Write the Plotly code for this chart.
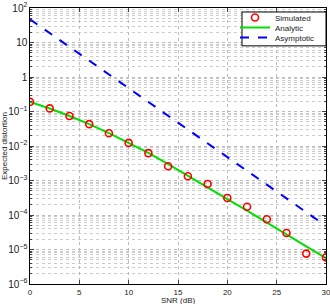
import plotly.graph_objects as go

snr_db = [0, 2, 4, 6, 8, 10, 12, 14, 16, 18, 20, 22, 24, 26, 28, 30]
simulated = [0.19, 0.123, 0.074, 0.043, 0.0234, 0.0123, 0.0062, 0.0026, 0.00133,
             7.9e-4, 3.1e-4, 1.74e-4, 7.5e-5, 3.0e-5, 7.6e-6, 5.9e-6]
analytic = [0.19, 0.122, 0.074, 0.043, 0.0235, 0.0125, 0.0063, 0.0030, 0.00135,
            6.3e-4, 2.9e-4, 1.33e-4, 5.9e-5, 2.7e-5, 1.23e-5, 5.6e-6]
asym_snr_db = [0, 5, 10, 15, 20, 25, 30]
asymptotic = [47, 4.7, 0.47, 0.047, 0.0047, 4.7e-4, 4.8e-5]

x_ticks = [0, 5, 10, 15, 20, 25, 30]
series_names = ["Simulated", "Analytic", "Asymptotic"]
x_title = "SNR (dB)"
y_title = "Expected distortion"

FONT = "Liberation Sans, Arial, sans-serif"
TXT = "#222222"

fig = go.Figure()
fig.add_trace(go.Scatter(
    x=snr_db, y=analytic, mode="lines", name=series_names[1], legend="legend2",
    line=dict(color="#00e000", width=2),
))
fig.add_trace(go.Scatter(
    x=asym_snr_db, y=asymptotic, mode="lines", name=series_names[2], legend="legend3",
    line=dict(color="#0000ff", width=2, dash="dash"),
))
fig.add_trace(go.Scatter(
    x=snr_db, y=simulated, mode="markers", name=series_names[0], legend="legend",
    marker=dict(symbol="circle-open", size=7, color="#ff0000",
                line=dict(width=1.6, color="#ff0000")),
))

# Compact legend: one single-item legend per series, stacked 10 px apart
W, H, L, T = 330, 304, 30, 7
PW, PH = 296, 277
def px_to_paper_y(py):
    return (T + PH - py) / PH
def px_to_paper_x(px):
    return (px - L) / PW

leg_common = dict(
    xanchor="left", yanchor="middle", bgcolor="rgba(0,0,0,0)",
    borderwidth=0, font=dict(size=8, family=FONT, color=TXT),
    itemwidth=30,
)
leg_x = px_to_paper_x(235)
fig.update_layout(
    legend=dict(x=leg_x, y=px_to_paper_y(17.5), **leg_common),
    legend2=dict(x=leg_x, y=px_to_paper_y(27.5), **leg_common),
    legend3=dict(x=leg_x, y=px_to_paper_y(37.5), **leg_common),
)
fig.add_shape(
    type="rect", xref="paper", yref="paper",
    x0=px_to_paper_x(242), x1=1.0, y0=px_to_paper_y(45), y1=px_to_paper_y(11),
    line=dict(color="black", width=1), fillcolor="white", layer="above",
)

# x-axis title placed at the very bottom, like the reference
fig.add_annotation(
    text=x_title, xref="paper", yref="paper", x=0.5, y=px_to_paper_y(306),
    xanchor="center", yanchor="bottom", showarrow=False, borderpad=0,
    font=dict(size=8, family=FONT, color=TXT),
)

fig.update_layout(
    width=W, height=H,
    margin=dict(l=L, r=W - L - PW, t=T, b=H - T - PH),
    paper_bgcolor="white", plot_bgcolor="white",
    font=dict(family=FONT, size=8, color=TXT),
    showlegend=True,
)

fig.update_xaxes(
    range=[0, 30], tickvals=x_ticks, ticks="inside", ticklen=4,
    showline=True, linecolor="black", linewidth=1, mirror="ticks",
    showgrid=True, gridcolor="#bbbbbb", griddash="dot", gridwidth=1,
    zeroline=False, automargin=False, ticklabeloverflow="allow",
    tickfont=dict(size=8),
)
fig.update_yaxes(
    type="log", range=[-6, 2], dtick=1, exponentformat="power",
    ticks="inside", ticklen=4, automargin=False, ticklabeloverflow="allow",
    showline=True, linecolor="black", linewidth=1, mirror="ticks",
    showgrid=True, gridcolor="#bbbbbb", griddash="dot", gridwidth=1,
    minor=dict(ticks="inside", ticklen=2, showgrid=True,
               gridcolor="#cccccc", griddash="dot", gridwidth=1),
    title=dict(text=y_title, standoff=0, font=dict(size=8)),
    tickfont=dict(size=8),
)

fig.write_html("out.html")
